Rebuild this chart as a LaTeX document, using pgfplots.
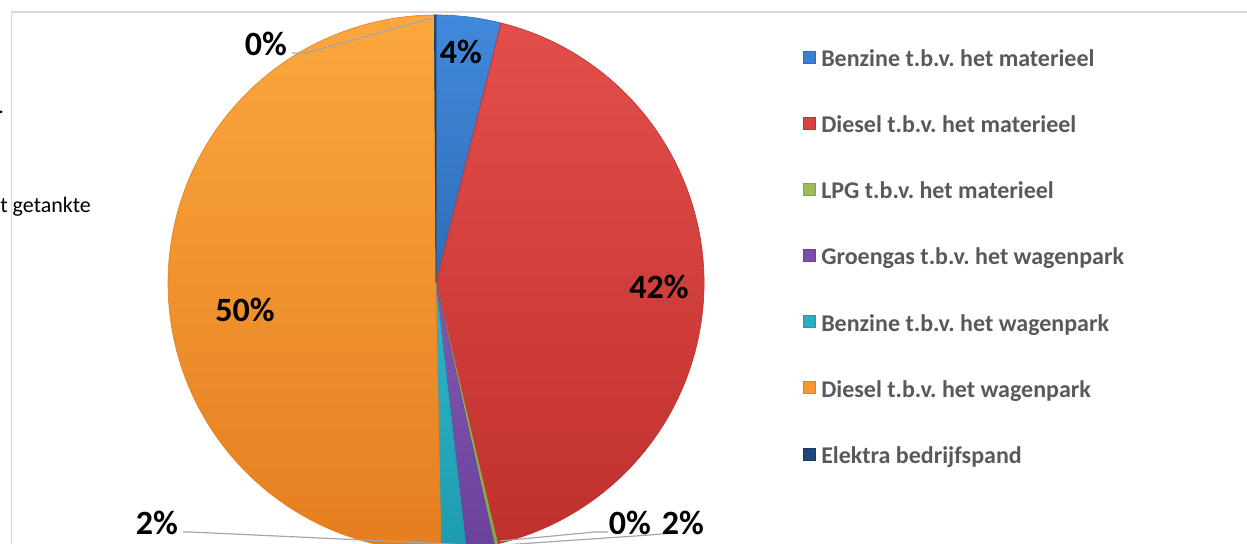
\documentclass[border=0pt]{standalone}
\usepackage{pgfplots}
\pgfplotsset{compat=1.18}
\usepackage{fontspec}
\setmainfont{Carlito}
\frenchspacing
\definecolor{blueT}{HTML}{4189DD}\definecolor{blueM}{HTML}{3A80D2}\definecolor{blueB}{HTML}{2F6DB5}
\definecolor{redT}{HTML}{E34E4A}\definecolor{redM}{HTML}{D84240}\definecolor{redB}{HTML}{BF302E}
\definecolor{greenT}{HTML}{A6C760}\definecolor{greenM}{HTML}{9BBB59}\definecolor{greenB}{HTML}{86A548}
\definecolor{purpleT}{HTML}{8457B2}\definecolor{purpleM}{HTML}{7A4EA8}\definecolor{purpleB}{HTML}{6A429B}
\definecolor{cyanT}{HTML}{31B6C9}\definecolor{cyanM}{HTML}{2BAEC2}\definecolor{cyanB}{HTML}{1E9BB0}
\definecolor{orangeT}{HTML}{FBA73E}\definecolor{orangeM}{HTML}{F7972F}\definecolor{orangeB}{HTML}{E47E1F}
\definecolor{darkT}{HTML}{2A5690}\definecolor{darkM}{HTML}{1F497D}\definecolor{darkB}{HTML}{183A66}
\definecolor{legtext}{HTML}{595959}
\definecolor{leadgray}{HTML}{A6A6A6}
\definecolor{framegray}{HTML}{D9D9D9}
\begin{document}
\begin{tikzpicture}
\begin{axis}[
  x=0.5pt, y=0.5pt, xmin=0, xmax=1247, ymin=0, ymax=544,
  scale only axis, hide axis, clip=true,
  legend style={at={(0.644,0.907)}, anchor=north west, draw=none, fill=none,
    inner sep=0pt, row sep=22.7pt, column sep=2.5pt,
    font=\bfseries\fontsize{12}{14}\selectfont, text=legtext,
    nodes={inner sep=0pt, text height=7pt, text depth=2.5pt}},
  legend cell align=left,
  legend image code/.code={\draw[#1] (0pt,-0.6pt) rectangle (6pt,5.4pt);},
]
\coordinate (SW) at (axis cs:0,0);
\coordinate (NE) at (axis cs:1247,544);
% frame
\draw[framegray, line width=0.8pt] (axis cs:11.5,-5) -- (axis cs:11.5,532) -- (axis cs:1260,532);
% pie slices: percentage / colour, clockwise from the top
\gdef\cum{0}
\foreach \v/\cc in {3.9/blue, 42.4/red, 0.2/green, 1.7/purple, 1.5/cyan, 50.2/orange, 0.1/dark}{
  \pgfmathsetmacro\sa{90-3.6*\cum}
  \pgfmathsetmacro\ea{90-3.6*(\cum+\v)}
  \pgfmathsetmacro\nc{\cum+\v}
  \global\let\cum\nc
  \edef\temp{\noexpand\shade[top color=\cc T, middle color=\cc M, bottom color=\cc B, draw=\cc B, line width=0.3pt]
    (axis cs:436,261) -- (axis cs:{436+268*cos(\sa)},{261+268*sin(\sa)})
    arc[start angle=\sa, end angle=\ea, radius=134pt] -- cycle;}
  \temp
}
% leader lines
\draw[leadgray, line width=0.6pt] (axis cs:292,491) -- (axis cs:305,491) -- (axis cs:433,526);
\draw[leadgray, line width=0.6pt] (axis cs:500,3) -- (axis cs:595,12) -- (axis cs:608,12);
\draw[leadgray, line width=0.6pt] (axis cs:503,-1) -- (axis cs:650,9) -- (axis cs:673,11);
\draw[leadgray, line width=0.6pt] (axis cs:183,12) -- (axis cs:190,12) -- (axis cs:470,-1);
% data labels
\begin{scope}[every node/.style={font=\bfseries\fontsize{17}{20}\selectfont, text=black, inner sep=0pt}]
\node at (axis cs:461,492) {4\%};
\node at (axis cs:659,257) {42\%};
\node at (axis cs:245,234) {50\%};
\node at (axis cs:266,500) {0\%};
\node at (axis cs:630,21) {0\%};
\node at (axis cs:683,21) {2\%};
\node at (axis cs:157,21) {2\%};
\end{scope}
% cut-off text at the left
\node[anchor=base west, inner sep=0pt, font=\fontsize{11}{13}\selectfont] at (axis cs:0,331) {t getankte};
\node[anchor=base west, inner sep=0pt, font=\fontsize{11}{13}\selectfont] at (axis cs:-2,430) {.};
% legend
\addlegendimage{fill=blueM, draw=blueB}
\addlegendimage{fill=redM, draw=redB}
\addlegendimage{fill=greenM, draw=greenB}
\addlegendimage{fill=purpleM, draw=purpleB}
\addlegendimage{fill=cyanM, draw=cyanB}
\addlegendimage{fill=orangeM, draw=orangeB}
\addlegendimage{fill=darkM, draw=darkB}
\legend{Benzine t.b.v. het materieel, Diesel t.b.v. het materieel, LPG t.b.v. het materieel, Groengas t.b.v. het wagenpark, Benzine t.b.v. het wagenpark, Diesel t.b.v. het wagenpark, Elektra bedrijfspand}
\end{axis}
\pgfresetboundingbox
\path[use as bounding box] (SW) rectangle (NE);
\end{tikzpicture}
\end{document}
